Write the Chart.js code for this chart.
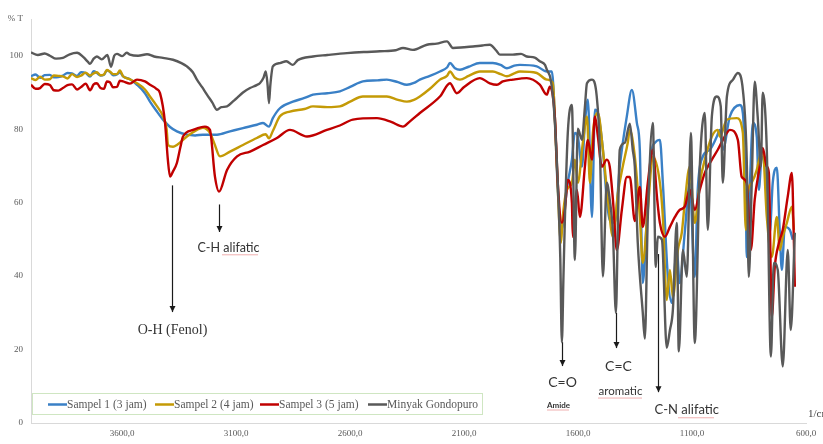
<!DOCTYPE html>
<html lang="id">
<head>
<meta charset="UTF-8">
<title>Spektrum FTIR</title>
<script src="https://cdn.jsdelivr.net/npm/chart.js"></script>
<style>
  body { margin: 0; background: #fff; }
</style>
</head>
<body>
<canvas id="ftirChart" width="823" height="444"></canvas>
<script>
// tick labels on the wavenumber axis
const wnTicks = [3600, 3100, 2600, 2100, 1600, 1100, 600];
const tTicks = [0, 20, 40, 60, 80, 100, 110];

const seriesNames = ['Sampel 1 (3 jam)', 'Sampel 2 (4 jam)', 'Sampel 3 (5 jam)', 'Minyak Gondopuro'];

// Sampel 1 (3 jam)
const s1Wn = [4000, 3980, 3960, 3940, 3917, 3900, 3880, 3860, 3840, 3820, 3798, 3780, 3760, 3741, 3725, 3711, 3695, 3680, 3667, 3654, 3640, 3623, 3610, 3596, 3566, 3535, 3500, 3478, 3450, 3421, 3390, 3360, 3316, 3280, 3246, 3184, 3127, 3070, 3009, 2982, 2956, 2939, 2908, 2851, 2800, 2763, 2700, 2645, 2600, 2544, 2480, 2439, 2390, 2351, 2320, 2294, 2250, 2206, 2175, 2162, 2140, 2118, 2080, 2031, 1974, 1940, 1912, 1880, 1855, 1781, 1737, 1715, 1702, 1689, 1671, 1658, 1645, 1627, 1614, 1601, 1583, 1570, 1557, 1539, 1526, 1513, 1491, 1474, 1461, 1439, 1417, 1386, 1364, 1342, 1329, 1316, 1298, 1276, 1263, 1241, 1228, 1206, 1189, 1167, 1154, 1132, 1110, 1088, 1075, 1053, 1022, 991, 978, 965, 934, 890, 877, 864, 860, 846, 833, 816, 807, 794, 772, 759, 746, 728, 715, 706, 693, 671, 658];
const s1T  = [94.4, 94.9, 94.0, 94.7, 94.8, 94.1, 94.2, 94.6, 95.3, 95.2, 94.5, 95.5, 95.3, 94.3, 95.8, 95.3, 94.6, 94.8, 96.0, 95.6, 94.7, 94.9, 95.5, 94.4, 93.6, 92.1, 89.8, 87.5, 85.0, 82.6, 80.6, 79.4, 78.5, 78.3, 78.5, 78.5, 79.4, 80.3, 81.2, 81.7, 80.7, 83.0, 85.7, 87.5, 88.5, 89.4, 89.8, 90.3, 91.5, 93.0, 93.3, 93.5, 92.8, 92.1, 92.6, 93.5, 94.5, 95.7, 96.8, 98.0, 96.6, 96.2, 97.0, 98.0, 98.0, 97.5, 96.6, 97.3, 97.5, 97.1, 95.7, 95.7, 83.5, 63.5, 52.6, 58.9, 65.4, 71.7, 79.0, 78.0, 69.8, 81.7, 88.0, 56.1, 85.3, 84.4, 74.4, 60.8, 55.3, 54.5, 69.8, 83.5, 90.7, 81.7, 74.4, 38.1, 56.1, 74.4, 76.3, 77.1, 65.4, 39.8, 32.7, 47.1, 38.1, 51.8, 65.4, 39.8, 63.5, 72.5, 74.4, 78.0, 79.8, 74.4, 83.5, 86.6, 84.4, 60.8, 45.2, 65.4, 81.7, 78.0, 63.5, 72.5, 65.4, 51.8, 65.4, 69.5, 51.8, 41.7, 53.4, 52.6, 49.9];

// Sampel 2 (4 jam)
const s2Wn = [4000, 3980, 3960, 3940, 3917, 3900, 3880, 3860, 3840, 3820, 3798, 3780, 3760, 3741, 3725, 3711, 3695, 3680, 3667, 3654, 3640, 3623, 3610, 3596, 3566, 3535, 3500, 3478, 3450, 3421, 3405, 3399, 3377, 3360, 3316, 3272, 3246, 3215, 3195, 3171, 3127, 3070, 3009, 2970, 2956, 2939, 2908, 2864, 2800, 2763, 2700, 2645, 2600, 2544, 2439, 2390, 2351, 2320, 2294, 2250, 2206, 2175, 2162, 2140, 2118, 2080, 2031, 1974, 1940, 1912, 1880, 1855, 1781, 1737, 1711, 1693, 1675, 1667, 1649, 1627, 1614, 1601, 1579, 1561, 1548, 1535, 1513, 1491, 1469, 1447, 1425, 1404, 1382, 1373, 1351, 1329, 1316, 1294, 1272, 1241, 1228, 1211, 1197, 1184, 1162, 1145, 1132, 1110, 1088, 1066, 1044, 1013, 987, 978, 947, 904, 877, 864, 855, 838, 816, 803, 790, 772, 750, 728, 715, 702, 684, 662, 653];
const s2T  = [93.9, 93.4, 94.3, 93.5, 93.6, 94.6, 94.5, 94.4, 93.8, 95.0, 94.2, 94.6, 95.4, 94.6, 95.2, 95.5, 94.7, 94.9, 96.1, 95.7, 95.0, 95.0, 96.0, 94.4, 93.6, 92.5, 90.8, 88.9, 86.5, 83.5, 80.0, 75.7, 75.2, 75.7, 78.0, 79.8, 80.4, 79.0, 76.0, 72.6, 73.9, 75.7, 77.6, 78.6, 77.5, 79.5, 83.5, 84.8, 85.5, 86.2, 86.0, 86.2, 87.5, 88.9, 88.9, 88.0, 87.5, 88.0, 88.9, 91.0, 93.5, 94.5, 95.7, 94.0, 93.5, 94.5, 95.7, 95.7, 95.0, 94.4, 95.2, 95.7, 95.3, 93.5, 92.6, 69.8, 49.0, 56.1, 63.5, 65.4, 71.7, 65.4, 76.3, 83.5, 65.4, 79.0, 84.4, 74.4, 60.8, 50.7, 62.7, 69.8, 76.3, 79.8, 72.5, 56.1, 43.6, 58.0, 72.5, 65.4, 56.1, 33.5, 41.7, 34.3, 47.1, 51.8, 59.9, 69.8, 54.5, 65.4, 71.7, 78.0, 79.8, 78.0, 82.6, 83.0, 79.0, 52.6, 62.7, 65.4, 68.9, 72.5, 74.4, 56.1, 45.2, 56.1, 47.1, 50.7, 54.5, 58.9, 52.6];

// Sampel 3 (5 jam)
const s3Wn = [4000, 3980, 3960, 3940, 3917, 3900, 3880, 3860, 3840, 3820, 3798, 3780, 3760, 3741, 3725, 3711, 3695, 3680, 3667, 3654, 3640, 3623, 3610, 3596, 3566, 3535, 3500, 3478, 3450, 3434, 3412, 3400, 3390, 3377, 3360, 3345, 3333, 3289, 3237, 3215, 3193, 3175, 3140, 3096, 3039, 2982, 2921, 2864, 2789, 2702, 2645, 2588, 2482, 2420, 2368, 2340, 2294, 2206, 2162, 2132, 2100, 2031, 1987, 1956, 1930, 1886, 1825, 1768, 1737, 1724, 1702, 1689, 1671, 1658, 1645, 1627, 1623, 1605, 1592, 1570, 1557, 1539, 1526, 1513, 1496, 1474, 1461, 1447, 1430, 1408, 1386, 1373, 1351, 1329, 1316, 1294, 1272, 1254, 1241, 1219, 1197, 1175, 1154, 1132, 1110, 1088, 1066, 1044, 1013, 987, 947, 934, 899, 882, 860, 842, 825, 803, 790, 772, 763, 750, 737, 719, 702, 680, 662, 653, 649];
const s3T  = [92.1, 91.0, 91.2, 92.3, 92.0, 90.6, 90.5, 91.2, 92.0, 92.2, 90.8, 91.5, 92.4, 90.6, 92.2, 92.5, 91.2, 91.0, 93.0, 92.8, 91.4, 91.5, 93.2, 93.0, 92.4, 93.5, 93.0, 92.1, 91.0, 89.8, 81.7, 72.0, 67.1, 68.5, 70.8, 75.0, 78.0, 79.8, 80.7, 79.8, 67.1, 63.0, 68.9, 72.6, 73.9, 75.7, 77.6, 79.8, 78.0, 79.8, 81.0, 82.6, 83.0, 82.0, 80.7, 82.0, 84.4, 88.9, 92.5, 89.8, 91.5, 93.9, 92.5, 92.1, 93.0, 93.5, 93.9, 92.1, 89.4, 91.6, 83.5, 65.4, 54.5, 58.0, 66.2, 59.9, 50.7, 63.5, 56.1, 69.8, 77.1, 71.7, 83.5, 78.0, 69.8, 71.7, 69.8, 60.8, 47.1, 58.0, 67.0, 67.0, 55.0, 64.3, 53.4, 65.4, 74.4, 61.7, 54.5, 50.7, 53.4, 56.1, 58.0, 58.9, 63.5, 58.0, 63.5, 68.1, 71.7, 74.4, 79.0, 79.8, 77.1, 67.0, 65.4, 47.1, 60.8, 69.8, 74.9, 69.8, 68.1, 28.9, 42.5, 49.0, 52.6, 61.7, 68.1, 49.0, 37.1];

// Minyak Gondopuro
const s4Wn = [4000, 3970, 3940, 3917, 3890, 3860, 3830, 3798, 3770, 3750, 3741, 3725, 3711, 3690, 3665, 3649, 3635, 3623, 3600, 3580, 3566, 3530, 3491, 3460, 3421, 3377, 3340, 3316, 3290, 3272, 3250, 3228, 3205, 3184, 3165, 3140, 3115, 3096, 3070, 3039, 3010, 2996, 2980, 2970, 2962, 2956, 2950, 2939, 2908, 2880, 2851, 2830, 2763, 2700, 2614, 2540, 2469, 2400, 2368, 2325, 2263, 2220, 2175, 2149, 2100, 2061, 2020, 1987, 1960, 1943, 1886, 1850, 1825, 1790, 1768, 1745, 1737, 1720, 1705, 1689, 1678, 1671, 1664, 1658, 1645, 1627, 1614, 1601, 1583, 1570, 1561, 1539, 1518, 1504, 1491, 1474, 1461, 1447, 1434, 1425, 1417, 1395, 1373, 1360, 1351, 1338, 1316, 1307, 1294, 1272, 1259, 1250, 1232, 1211, 1197, 1184, 1167, 1158, 1140, 1123, 1105, 1088, 1066, 1044, 1031, 1013, 991, 974, 965, 947, 920, 899, 877, 860, 851, 838, 825, 812, 798, 790, 772, 754, 741, 724, 702, 680, 667, 649];
const s4T  = [100.9, 100.2, 100.6, 100.0, 99.2, 99.4, 100.4, 100.8, 99.6, 98.3, 97.8, 99.2, 99.8, 99.0, 100.2, 97.0, 100.0, 100.5, 99.9, 100.8, 100.3, 100.0, 100.4, 99.8, 99.4, 98.9, 98.0, 97.1, 95.5, 93.5, 91.5, 89.4, 87.3, 85.3, 86.0, 86.2, 87.5, 88.5, 90.0, 91.2, 92.0, 92.5, 94.0, 95.7, 92.0, 87.1, 92.0, 97.1, 98.0, 98.5, 97.5, 98.8, 99.8, 100.2, 100.7, 101.0, 101.2, 101.5, 102.1, 101.6, 103.0, 103.3, 103.9, 102.1, 102.3, 102.5, 102.8, 103.0, 101.5, 100.3, 100.3, 100.5, 99.8, 99.5, 98.5, 97.5, 96.2, 93.5, 85.0, 65.4, 45.0, 22.0, 40.0, 55.0, 79.0, 86.6, 44.4, 80.1, 77.1, 86.0, 92.5, 93.5, 88.9, 74.4, 39.9, 65.4, 60.8, 51.8, 30.0, 55.0, 74.4, 76.3, 81.5, 74.4, 69.8, 49.0, 30.0, 23.0, 56.1, 81.7, 42.5, 50.7, 49.9, 20.5, 25.3, 30.8, 54.5, 19.5, 47.1, 39.8, 79.0, 21.8, 69.8, 84.4, 52.6, 83.5, 88.9, 86.2, 65.4, 88.9, 93.5, 95.3, 90.7, 71.7, 39.8, 65.4, 92.9, 83.5, 69.8, 89.9, 74.4, 18.1, 43.6, 41.7, 15.4, 47.1, 25.3, 51.8];

const colors = ['#3a80c6', '#c49a06', '#c00000', '#595959'];

// band labels: wavenumber of arrow, arrow top/bottom in %T
const bandWn = [3382, 3175, 1671, 1434, 1250];
const bandTop = [64.7, 59.5, 22, 30, 46];
const bandBottom = [30.2, 52, 15.5, 20.4, 8.4];

function pairs(wn, t) {
    return wn.map((w, i) => ({ x: w, y: t[i] }));
}

const series = [[s1Wn, s1T], [s2Wn, s2T], [s3Wn, s3T], [s4Wn, s4T]];

const serif = '"Liberation Serif", "Times New Roman", serif';
const sans = 'Lato, "Liberation Sans", sans-serif';

function squiggle(ctx, x1, x2, y) {
    ctx.save();
    ctx.strokeStyle = '#e06060';
    ctx.lineWidth = 1;
    ctx.setLineDash([1, 1]);
    ctx.beginPath();
    ctx.moveTo(x1, y);
    ctx.lineTo(x2, y);
    ctx.stroke();
    ctx.restore();
}

function arrow(ctx, x, y1, y2) {
    ctx.beginPath();
    ctx.moveTo(x, y1);
    ctx.lineTo(x, y2);
    ctx.stroke();
    ctx.beginPath();
    ctx.moveTo(x - 3, y2 - 6);
    ctx.lineTo(x + 3, y2 - 6);
    ctx.lineTo(x, y2);
    ctx.closePath();
    ctx.fill();
}

const notesPlugin = {
    id: 'notes',
    afterDraw(chart) {
        const ctx = chart.ctx;
        const xs = chart.scales.x, ys = chart.scales.y;
        const area = chart.chartArea;
        ctx.save();
        ctx.strokeStyle = '#1a1a1a';
        ctx.fillStyle = '#1a1a1a';
        ctx.lineWidth = 1.2;
        const px = bandWn.map(w => Math.round(xs.getPixelForValue(w)) + 0.5);
        bandWn.forEach((w, i) => {
            arrow(ctx, px[i], ys.getPixelForValue(bandTop[i]), ys.getPixelForValue(bandBottom[i]));
        });

        ctx.fillStyle = '#333';
        ctx.textBaseline = 'middle';
        ctx.textAlign = 'center';
        // O-H
        ctx.font = '14px ' + serif;
        ctx.fillText('O-H (Fenol)', px[0], ys.getPixelForValue(25.3));
        // C-H
        ctx.font = '12.5px ' + sans;
        ctx.fillText('C-H alifatic', px[1] + 9, ys.getPixelForValue(47.7));
        squiggle(ctx, px[1] + 3, px[1] + 39, ys.getPixelForValue(47.7) + 7);
        // C=O
        ctx.font = '14px ' + sans;
        ctx.fillText('C=O', px[2], ys.getPixelForValue(10.9));
        ctx.font = 'bold 8px ' + sans;
        ctx.fillText('Amide', px[2] - 4, ys.getPixelForValue(4.9));
        squiggle(ctx, px[2] - 15, px[2] + 7, ys.getPixelForValue(4.9) + 5);
        // C=C
        ctx.font = '14px ' + sans;
        ctx.fillText('C=C', px[3] + 2, ys.getPixelForValue(15.5));
        ctx.font = '11.5px ' + sans;
        ctx.fillText('aromatic', px[3] + 4, ys.getPixelForValue(8.7));
        squiggle(ctx, px[3] - 18, px[3] + 26, ys.getPixelForValue(8.7) + 7);
        // C-N
        ctx.textAlign = 'left';
        ctx.font = '13px ' + sans;
        ctx.fillText('C-N alifatic', px[4] - 4, ys.getPixelForValue(3.6));
        squiggle(ctx, px[4] + 20, px[4] + 56, ys.getPixelForValue(3.6) + 8);

        // axis unit
        ctx.fillStyle = '#404040';
        ctx.font = '11px ' + serif;
        ctx.fillText('1/cm', area.right + 2, area.bottom - 9);

        // legend box
        const lx = area.left + 1, ly = area.bottom - 30, lw = 450, lh = 21;
        ctx.strokeStyle = '#cfe6c2';
        ctx.lineWidth = 1;
        ctx.strokeRect(lx + 0.5, ly + 0.5, lw, lh);
        const itemX = [48, 155, 260, 368];
        ctx.font = '11.5px ' + serif;
        ctx.textAlign = 'left';
        seriesNames.forEach((name, i) => {
            const yMid = ly + lh / 2 + 1;
            ctx.strokeStyle = colors[i];
            ctx.lineWidth = 2.5;
            ctx.beginPath();
            ctx.moveTo(itemX[i], yMid);
            ctx.lineTo(itemX[i] + 19, yMid);
            ctx.stroke();
            ctx.fillStyle = '#595959';
            ctx.fillText(name, itemX[i] + 19, yMid);
        });
        ctx.restore();
    }
};

const ctx = document.getElementById('ftirChart').getContext('2d');
new Chart(ctx, {
    type: 'line',
    data: {
        datasets: series.map((s, i) => ({
            label: seriesNames[i],
            data: pairs(s[0], s[1]),
            borderColor: colors[i],
            backgroundColor: colors[i],
            borderWidth: 2.4,
            pointRadius: 0,
            cubicInterpolationMode: 'monotone',
            fill: false,
            order: 3 - i
        }))
    },
    options: {
        responsive: false,
        animation: false,
        layout: { padding: { top: 19, right: 17, left: 0, bottom: 0 } },
        plugins: {
            legend: { display: false },
            tooltip: { enabled: false }
        },
        scales: {
            x: {
                type: 'linear',
                reverse: true,
                min: 600,
                max: 4000,
                grid: { display: false, drawTicks: false },
                border: { display: true, color: '#d9d9d9' },
                ticks: {
                    padding: 5,
                    maxRotation: 0,
                    autoSkip: false,
                    color: '#595959',
                    font: { family: serif, size: 9 },
                    callback: v => v.toFixed(1).replace('.', ',')
                },
                afterBuildTicks: s => { s.ticks = wnTicks.map(v => ({ value: v })); },
                afterFit: s => { s.height = 21; }
            },
            y: {
                min: 0,
                max: 110,
                grid: { display: false, drawTicks: false },
                border: { display: true, color: '#d9d9d9' },
                ticks: {
                    padding: 8,
                    autoSkip: false,
                    color: '#595959',
                    font: { family: serif, size: 9 },
                    callback: v => v === 110 ? '% T' : v
                },
                afterBuildTicks: s => { s.ticks = tTicks.map(v => ({ value: v })); },
                afterFit: s => { s.width = 31; }
            }
        }
    },
    plugins: [notesPlugin]
});
</script>
</body>
</html>
